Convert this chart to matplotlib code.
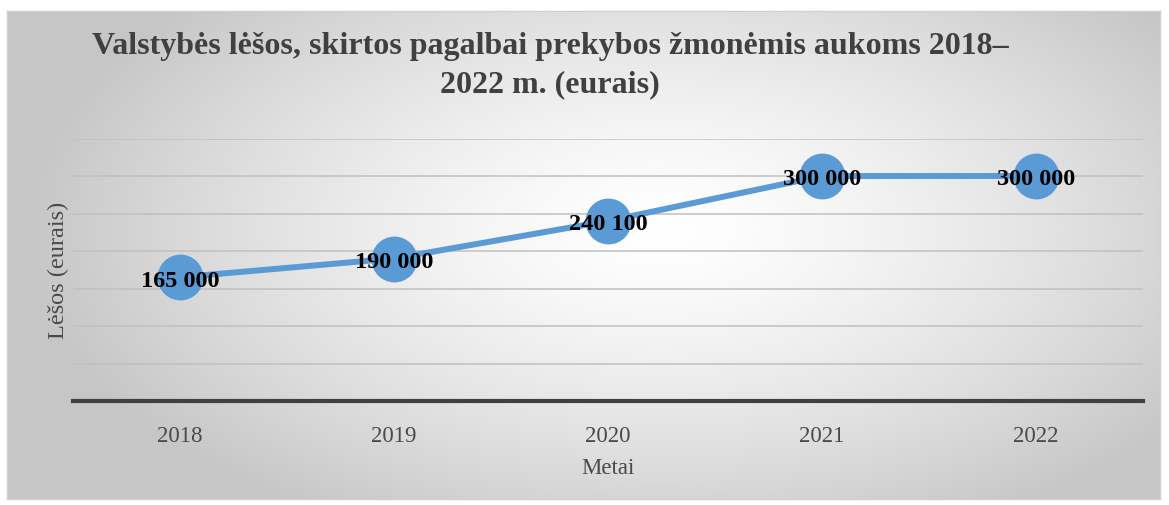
import numpy as np
import matplotlib
matplotlib.use("Agg")
import matplotlib.pyplot as plt

# duomenys
metai = ["2018", "2019", "2020", "2021", "2022"]
lesos = [165000, 190000, 240100, 300000, 300000]
y_ticks = [0, 50000, 100000, 150000, 200000, 250000, 300000, 350000]

pavadinimas = "Valstybės lėšos, skirtos pagalbai prekybos žmonėmis aukoms 2018–\n2022 m. (eurais)"

plt.rcParams['font.family'] = ['Liberation Serif', 'DejaVu Serif']

W, H = 1169, 506
fig = plt.figure(figsize=(W / 100, H / 100), dpi=100)

# fonas - radialinis gradientas
bx0, by0, bx1, by1 = 7, 12, 1160, 500
bg = fig.add_axes([bx0 / W, 1 - by1 / H, (bx1 - bx0) / W, (by1 - by0) / H])
gx, gy = np.meshgrid(np.linspace(bx0, bx1, 600), np.linspace(by0, by1, 300))
cx, cy = 660, 230
d = np.sqrt(((gx - cx) / 620) ** 2 + ((gy - cy) / 330) ** 2) / np.sqrt(2)
d = np.clip(d / 0.72, 0, 1) ** 1.4
shade = 1 - (1 - 0.78) * d
bg.imshow(np.dstack([shade, shade, shade]), aspect='auto', extent=[0, 1, 0, 1])
bg.set_xticks([])
bg.set_yticks([])
for s in bg.spines.values():
    s.set_color('#d0d0d0')
    s.set_linewidth(1)

# pagrindinė ašis
x0, x1, ytop, ybot = 73, 1143, 139.5, 402
ax = fig.add_axes([x0 / W, 1 - ybot / H, (x1 - x0) / W, (ybot - ytop) / H])
ax.patch.set_alpha(0)
x = np.arange(len(metai))
ax.plot(x, lesos, color='#5B9BD5', lw=4.3, marker='o', markersize=33,
        markeredgewidth=0, solid_capstyle='round', zorder=3)
for xi, v in zip(x, lesos):
    ax.annotate(f"{v:,}".replace(",", " "), (xi, v), xytext=(0, -2),
                textcoords='offset points', ha='center', va='center',
                fontsize=17.5, fontweight='bold', color='black', zorder=4)

ax.set_xlim(-0.5, len(metai) - 0.5)
ax.set_ylim(0, 350000)
ax.set_yticks(y_ticks)
ax.set_xticks(x)
ax.set_xticklabels(metai)
ax.tick_params(axis='x', length=0, pad=17, labelsize=16.5, labelcolor='#4a4a4a')
ax.tick_params(axis='y', length=0, labelleft=False)
ax.grid(axis='y', color='#c0c0c0', lw=1.1)
ax.set_axisbelow(True)
for s in ['top', 'right', 'left']:
    ax.spines[s].set_visible(False)
ax.spines['bottom'].set_color('#404040')
ax.spines['bottom'].set_linewidth(3)

ax.set_ylabel("Lėšos (eurais)", fontsize=17.5, color='#4a4a4a')
ax.yaxis.set_label_coords(-0.004, 0.5)
ax.set_xlabel("Metai", fontsize=16.5, color='#4a4a4a')
ax.xaxis.set_label_coords(0.5, -0.215)

fig.text(550 / W, 1 - 32 / H, pavadinimas, ha='center', va='top',
         fontsize=23, fontweight='bold', color='#404040', linespacing=1.4)

fig.savefig("out.png", dpi=100)
